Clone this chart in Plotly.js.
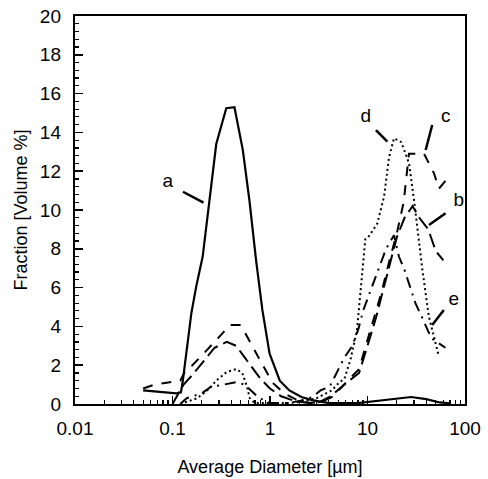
<!DOCTYPE html>
<html>
<head>
<meta charset="utf-8">
<script src="https://cdn.plot.ly/plotly-3.0.1.min.js"></script>
<style>html,body{margin:0;padding:0;background:#fff;}#chart{width:488px;height:479px;}</style>
</head>
<body>
<div id="chart"></div>
<script>
// ---- data ----
const aX = [0.05, 0.11, 0.122, 0.128, 0.156, 0.175, 0.204, 0.235, 0.281, 0.356, 0.432, 0.526, 0.615, 0.72, 0.835, 0.99, 1.26, 1.58, 2.1, 2.7, 4, 8, 15, 22, 28, 40, 55, 70];
const aY = [0.7, 0.55, 0.6, 1.24, 4.67, 6.05, 7.6, 10.2, 13.4, 15.25, 15.3, 13.1, 10.5, 7.4, 4.85, 2.6, 1.2, 0.7, 0.36, 0.2, 0.05, 0.05, 0.2, 0.3, 0.36, 0.25, 0.08, 0.03];

const bX = [0.1, 0.13, 0.16, 0.2, 0.27, 0.36, 0.45, 0.55, 0.65, 0.8, 1.0, 1.3, 1.8, 2.5, 3.2, 4.2, 5.8, 8.2, 10, 12.3, 14, 16.6, 20, 24, 29, 34, 42, 50, 60];
const bY = [0, 1.0, 1.5, 2.1, 2.9, 3.2, 3.0, 2.4, 1.9, 1.3, 0.8, 0.4, 0.15, 0.05, 0.1, 0.4, 1.0, 1.6, 3.0, 4.5, 5.6, 7.0, 8.6, 9.6, 10.2, 9.6, 9.0, 7.9, 7.4];

const cX = [0.05, 0.065, 0.087, 0.12, 0.135, 0.16, 0.2, 0.26, 0.32, 0.385, 0.49, 0.55, 0.69, 0.85, 1.06, 1.4, 1.9, 2.6, 3.3, 4.3, 5.8, 8.2, 10, 12.3, 14, 16.6, 20, 23.5, 25, 26.6, 38, 48, 54, 63];
const cY = [0.8, 1.0, 1.1, 1.2, 1.7, 2.0, 2.5, 3.1, 3.6, 4.07, 4.07, 3.7, 2.8, 1.9, 1.1, 0.55, 0.2, 0.05, 0.1, 0.35, 1.0, 1.8, 3.3, 4.8, 5.8, 7.3, 8.8, 10.4, 11.5, 12.9, 12.9, 11.9, 11.1, 11.5];

const dX = [0.12, 0.18, 0.24, 0.28, 0.36, 0.45, 0.52, 0.58, 0.62, 0.7, 1.0, 1.5, 2.0, 3.0, 4.3, 5.1, 5.8, 6.7, 7.8, 8.7, 9.5, 10.2, 12.6, 14.8, 16.6, 18.7, 22.2, 26.7, 30.2, 36.6, 42.6, 53.7];
const dY = [0, 0.3, 0.8, 1.2, 1.65, 1.8, 1.6, 0.9, 0.3, 0.05, 0.05, 0.05, 0.1, 0.3, 0.7, 1.1, 1.3, 2.3, 3.8, 6.4, 8.5, 8.6, 9.3, 10.7, 12.7, 13.7, 13.5, 12.4, 10.4, 6.9, 4.5, 2.5];

const eX = [0.12, 0.14, 0.2, 0.25, 0.3, 0.37, 0.45, 0.55, 0.72, 0.85, 1.0, 1.5, 2.0, 2.7, 3.3, 4.1, 4.8, 5.8, 7, 8.1, 9, 11, 13.2, 15.5, 18.7, 21, 24, 28, 31, 36, 45, 55, 63];
const eY = [0, 0.3, 0.55, 0.9, 0.95, 1.05, 1.13, 1.0, 0.45, 0.2, 0.05, 0.05, 0.15, 0.35, 0.7, 0.9, 1.6, 2.4, 3.0, 3.9, 4.8, 6.0, 7.1, 8.0, 8.7, 7.6, 6.9, 5.9, 5.2, 4.5, 3.4, 3.1, 2.9];

// curve labels and their leader lines
const labelText = ['a', 'b', 'c', 'd', 'e'];
const labelX = [0.0893, 86.5, 63.3, 9.6, 76.7];
const labelY = [11.44, 10.43, 14.8, 14.8, 5.36];
const leaderX = [[0.128, 0.208], [42.7, 63.2], [39.5, 46.1], [12.2, 16.0], [46.1, 60.7]];
const leaderY = [[10.94, 10.38], [9.23, 9.83], [13.09, 14.38], [14.12, 13.52], [4.07, 4.85]];

const xTickVals = [0.01, 0.1, 1, 10, 100];
const xTickText = ['0.01', '0.1', '1', '10', '100'];

// ---- chart ----
const FONT = 'Liberation Sans, Arial, Helvetica, sans-serif';
const series = [
  {x: aX, y: aY, dash: 'solid', w: 2.2},
  {x: bX, y: bY, dash: '14px,6px', w: 2},
  {x: cX, y: cY, dash: '10px,9px', w: 2},
  {x: dX, y: dY, dash: '2px,3px', w: 2},
  {x: eX, y: eY, dash: '11px,6px,2px,6px', w: 2}
];
const traces = series.map(s => ({
  x: s.x, y: s.y, type: 'scatter', mode: 'lines',
  line: {color: '#000', width: s.w, dash: s.dash, shape: 'linear'},
  hoverinfo: 'skip', showlegend: false
}));
leaderX.forEach((lx, i) => traces.push({
  x: lx, y: leaderY[i], type: 'scatter', mode: 'lines',
  line: {color: '#000', width: 2.5}, hoverinfo: 'skip', showlegend: false
}));
traces.push({
  x: labelX, y: labelY, text: labelText, type: 'scatter', mode: 'text',
  textfont: {family: FONT, size: 19, color: '#000'}, textposition: 'middle center',
  hoverinfo: 'skip', showlegend: false, cliponaxis: false
});

const minorX = [];
for (let k = -2; k < 2; k++) for (let m = 2; m <= 9; m++) minorX.push(m * Math.pow(10, k));

const layout = {
  width: 488, height: 479,
  margin: {l: 75, r: 23, t: 16, b: 75, pad: 0},
  paper_bgcolor: '#fff', plot_bgcolor: '#fff',
  font: {family: FONT, size: 19, color: '#000'},
  xaxis: {
    type: 'log', range: [-2, 2],
    tickmode: 'array', tickvals: xTickVals, ticktext: xTickText,
    ticks: 'inside', ticklen: 8, tickwidth: 1.5, tickcolor: '#000',
    minor: {tickmode: 'array', tickvals: minorX, ticks: 'inside', ticklen: 4, tickwidth: 1.2, tickcolor: '#000'},
    showline: true, linewidth: 2.2, linecolor: '#000', mirror: true,
    showgrid: false, zeroline: false,
    ticklabelstandoff: 6,
    tickfont: {family: FONT, size: 19},
    title: {text: 'Average Diameter [µm]', font: {family: FONT, size: 18}, standoff: 22}
  },
  yaxis: {
    range: [0, 20], dtick: 2, tick0: 0,
    ticks: 'inside', ticklen: 8, tickwidth: 1.5, tickcolor: '#000',
    minor: {dtick: 0.4, ticks: 'inside', ticklen: 4, tickwidth: 1.2, tickcolor: '#000'},
    showline: true, linewidth: 2.2, linecolor: '#000', mirror: true,
    showgrid: false, zeroline: false,
    ticklabelstandoff: 8,
    tickfont: {family: FONT, size: 19},
    title: {text: 'Fraction [Volume %]', font: {family: FONT, size: 18}, standoff: 8}
  }
};
Plotly.newPlot('chart', traces, layout, {staticPlot: true, displayModeBar: false});
</script>
</body>
</html>
